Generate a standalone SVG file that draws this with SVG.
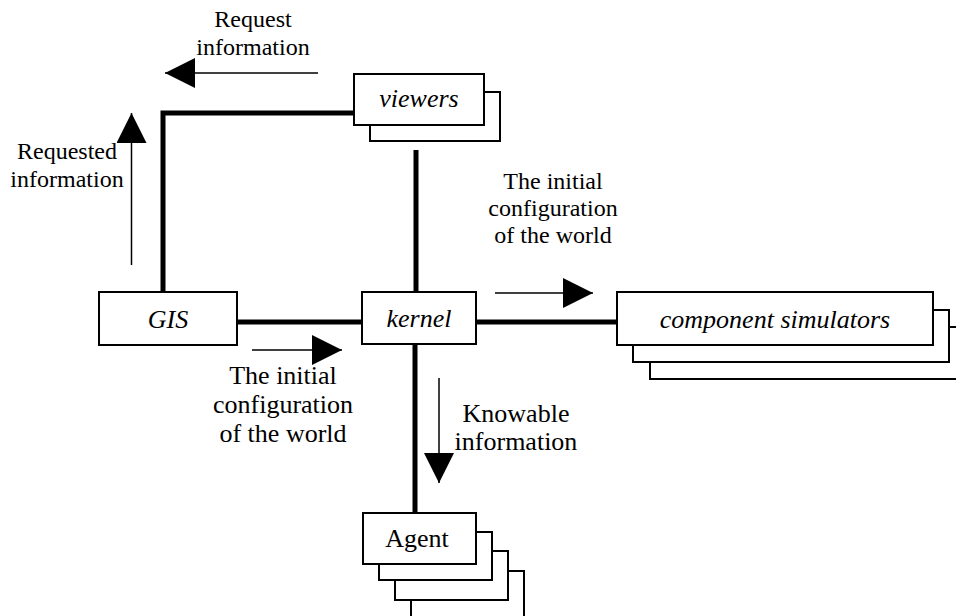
<svg xmlns="http://www.w3.org/2000/svg" width="956" height="616" viewBox="0 0 956 616">
<style>
.box{fill:#fff;stroke:#000;stroke-width:2}
.thick{fill:none;stroke:#000;stroke-width:5;stroke-linejoin:miter}
.thin{fill:none;stroke:#000;stroke-width:1.5}
.lbl{font-family:"Liberation Serif","Times New Roman",serif;font-size:26px;fill:#000;text-anchor:middle}
.sm{font-size:24px}
.it{font-style:italic}
</style>
<defs>
<marker id="ah" markerUnits="userSpaceOnUse" markerWidth="30" markerHeight="30" refX="30" refY="15" orient="auto" viewBox="0 0 30 30">
<path d="M0,0 L30,15 L0,30 Z" fill="#000"/>
</marker>
</defs>
<rect width="956" height="616" fill="#fff"/>

<g id="connectors">
<path class="thick" d="M163,292 V113 H358"/>
<path class="thick" d="M416,150 V294"/>
<path class="thick" d="M237,322 H364"/>
<path class="thick" d="M476,322 H619"/>
<path class="thick" d="M415,344 V514"/>
</g>

<g id="flow-arrows">
<line class="thin" x1="318" y1="73" x2="165" y2="73" marker-end="url(#ah)"/>
<line class="thin" x1="131.5" y1="265" x2="131.5" y2="113" marker-end="url(#ah)"/>
<line class="thin" x1="495" y1="293" x2="593" y2="293" marker-end="url(#ah)"/>
<line class="thin" x1="252" y1="350" x2="342" y2="350" marker-end="url(#ah)"/>
<line class="thin" x1="439" y1="378" x2="439" y2="483" marker-end="url(#ah)"/>
</g>

<g id="viewers">
<rect class="box" x="370" y="92" width="130" height="49"/>
<rect class="box" x="354" y="74" width="130" height="51"/>
<text class="lbl it" x="419" y="107">viewers</text>
</g>

<g id="gis">
<rect class="box" x="99" y="292" width="138" height="53"/>
<text class="lbl it" x="168" y="328">GIS</text>
</g>

<g id="kernel">
<rect class="box" x="362" y="292" width="114" height="52"/>
<text class="lbl it" x="419" y="327">kernel</text>
</g>

<g id="component-simulators">
<rect class="box" x="650" y="327" width="316" height="52"/>
<rect class="box" x="633" y="310" width="316" height="52"/>
<rect class="box" x="617" y="292" width="316" height="53"/>
<text class="lbl it" x="775" y="328">component simulators</text>
</g>

<g id="agent">
<rect class="box" x="411" y="571" width="113" height="60"/>
<rect class="box" x="395" y="551" width="113" height="49"/>
<rect class="box" x="379" y="532" width="113" height="48"/>
<rect class="box" x="363" y="513" width="113" height="51"/>
<text class="lbl" x="417" y="547">Agent</text>
</g>

<g id="labels">
<text class="lbl sm" x="253" y="27">Request</text>
<text class="lbl sm" x="253" y="55">information</text>
<text class="lbl sm" x="67" y="159">Requested</text>
<text class="lbl sm" x="67" y="187">information</text>
<text class="lbl sm" x="553" y="189">The initial</text>
<text class="lbl sm" x="553" y="216">configuration</text>
<text class="lbl sm" x="553" y="243">of the world</text>
<text class="lbl" x="283" y="384">The initial</text>
<text class="lbl" x="283" y="413">configuration</text>
<text class="lbl" x="283" y="442">of the world</text>
<text class="lbl" x="516" y="422">Knowable</text>
<text class="lbl" x="516" y="450">information</text>
</g>
</svg>
